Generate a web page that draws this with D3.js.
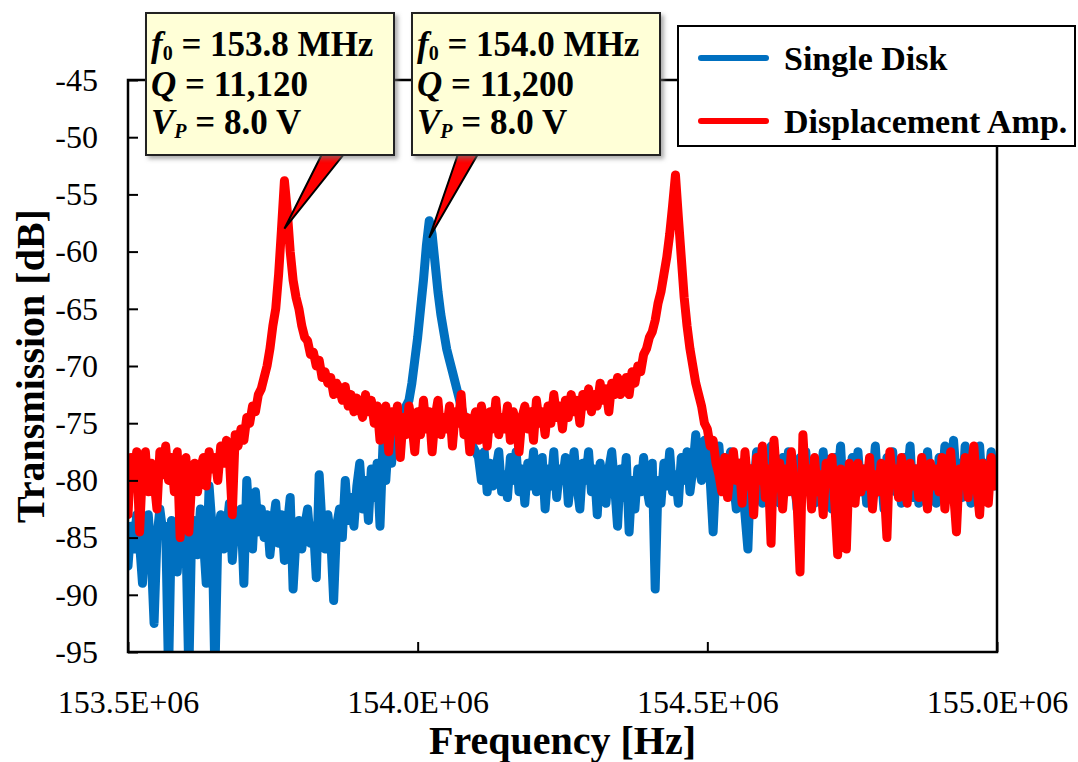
<!DOCTYPE html>
<html><head><meta charset="utf-8">
<script src="https://cdn.jsdelivr.net/npm/d3@7"></script>
<style>html,body{margin:0;padding:0;background:#fff;}svg{display:block;}</style>
</head><body>
<svg id="chart" width="1078" height="762"></svg>
<script>
// ---- DATA ----
const freqStartHz = 153.5e6;
const freqStepHz = 0.005e6;
const seriesNames = ["Single Disk", "Displacement Amp."];
const seriesColors = ["#0070C0", "#FF0000"];
const singleDisk = [
-87.5,-84,-86,-83,-85.5,-89,-84,-83,-86.5,-92.5,
-85,-82.5,-84.5,-84,-97,-83.5,-86,-88,-84,-82,
-85,-97,-84,-83.5,-86.5,-82.5,-85,-89,-80.5,-84,
-97,-85,-83,-86,-84.5,-82,-87,-83.5,-85,-82.5,
-89,-80,-84,-86,-81,-84.5,-82.5,-85,-83,-86.5,
-84,-82,-85.5,-83,-87,-84,-81.5,-89.5,-85,-83.5,
-86,-84,-82.5,-85.5,-84,-88.5,-79.5,-84,-86,-83,
-85,-90.5,-84,-82.5,-85,-80,-83.5,-81.5,-84,-80.5,
-78.5,-82.5,-80,-83.5,-79,-81.5,-78.5,-84,-77,-80,
-76,-78.5,-75.5,-77,-76,-75,-73.5,-73,-71.5,-69.5,
-67.5,-65,-62.5,-59.5,-57.3,-58.5,-61,-63.5,-65.5,-67,
-68.5,-69.5,-70.5,-71.5,-72.5,-73.5,-74.5,-75,-76,-77,
-77.5,-78,-80,-77.5,-81,-78.5,-80.5,-79,-77.5,-81,
-79.5,-81.5,-78,-80,-77.5,-81,-79,-82,-78.5,-80.5,
-77.5,-81,-79.5,-78,-82.5,-79,-80.5,-77.5,-81.5,-79,
-80,-78,-82,-79.5,-77.5,-80.5,-82.5,-78.5,-80,-77.5,
-81,-79,-83,-78.5,-80.5,-82,-79,-77.5,-80.5,-84,
-79,-81.5,-78,-84.5,-80,-82.5,-79,-81,-78,-80.5,
-82,-78.5,-89.5,-80,-82,-78.5,-80.5,-77.5,-81,-79.5,
-82,-78,-80,-77.5,-81,-79,-76,-78.5,-80,-76.5,
-77.5,-80,-84.5,-79,-77,-80.5,-78,-81,-77.5,-80,
-82.5,-78.5,-80,-83,-86,-79,-81,-77.5,-80,-82,
-78.5,-80.5,-77,-81.5,-79,-82,-78,-80.5,-77.5,-81,
-79.5,-82.5,-78,-80,-77.5,-81,-79,-82,-78.5,-80.5,
-77.5,-81,-79,-82.5,-78,-80,-77,-81.5,-79.5,-82,
-78,-80.5,-77.5,-81,-79,-82,-78.5,-80,-77,-81,
-79.5,-82.5,-78,-80.5,-77.5,-81,-79,-82,-78,-80,
-77,-81.5,-79,-82,-78.5,-80,-77.5,-81,-79.5,-82,
-78,-80.5,-77,-81,-79,-76.5,-80,-78.5,-81.5,-77,
-79.5,-82,-78,-80.5,-77,-81,-78.5,-80,-77.5,-80.5,
-79
];
const displacementAmp = [
-83,-78,-80.5,-77.5,-84.5,-79,-77.5,-81,-78.5,-80,
-82.5,-77.5,-79.5,-77,-80,-78,-81,-77.5,-85,-79,
-78,-84.5,-80,-78.5,-81,-79,-78,-80.5,-77.5,-79,
-78,-80,-77,-78.5,-76.5,-78,-83,-76,-77,-75.5,
-76.5,-74.5,-75,-73.5,-74,-72.5,-72,-71,-70,-68.5,
-66.5,-65,-62,-58,-53.8,-56.5,-60,-62.5,-64,-65,
-66.5,-67.5,-67.8,-69,-68.8,-70,-69.5,-71,-70.5,-71.5,
-71,-72.5,-71.5,-72,-73,-71.8,-73.5,-72.5,-74,-72.8,
-73.5,-74.5,-72.5,-74,-73,-75,-73.5,-76.5,-74,-73.5,
-77.5,-74,-75.5,-73.5,-78,-74.5,-76,-73.5,-75,-77.5,
-74,-76,-73,-75.5,-74,-77.5,-74.5,-73,-76,-74.5,
-75.5,-73.5,-77,-74,-75,-72.5,-76,-74.5,-77.5,-75,
-74,-76.5,-73.5,-75,-77,-74,-75.5,-73,-76,-74.5,
-75.5,-73.5,-76.5,-74,-75,-77.5,-74.5,-73.5,-75.5,-74,
-76.5,-73,-75,-74,-76,-73.5,-75,-72.5,-74.5,-73.5,
-75.5,-73,-74.5,-72.5,-74,-73,-75,-72.5,-73.5,-72,
-74,-72.5,-73.5,-71.5,-73,-72,-74,-71.5,-72.5,-71,
-72.5,-72,-71,-72.5,-70.5,-71.5,-70,-70.5,-69,-68.5,
-67.5,-67,-66,-64.5,-63.5,-62,-60.5,-58.5,-56,-53.3,
-57,-60.5,-64,-66.5,-68.5,-70,-71.5,-72.5,-73.5,-75,
-75.5,-77,-76.5,-78.5,-79.5,-81,-78,-81.5,-79,-77.5,
-80,-78.5,-82,-77.5,-80.5,-79,-83,-78,-80,-77,
-81.5,-79,-85.5,-76.5,-80,-78.5,-82.5,-79,-81,-77.5,
-80.5,-82,-88,-76,-80.5,-79,-82.5,-78,-81,-79.5,
-83,-78.5,-80,-78,-82,-86.5,-79,-81.5,-86,-78.5,
-80,-82,-78.5,-81,-79,-80.5,-78,-82.5,-79.5,-81,
-78.5,-80.5,-85,-77.5,-80,-79,-81.5,-78,-80,-82,
-78.5,-80.5,-79,-81.5,-78,-80,-82.5,-78.5,-80.5,-79,
-81,-78,-82.5,-79.5,-77.5,-81,-84.5,-79,-80.5,-78,
-81.5,-79,-77,-80.5,-83,-78.5,-80,-82,-78,-80.5,
-79
];
const xTickValues = [153.5e6, 154.0e6, 154.5e6, 155.0e6];
const xTickLabels = ["153.5E+06", "154.0E+06", "154.5E+06", "155.0E+06"];
const yTickValues = [-45,-50,-55,-60,-65,-70,-75,-80,-85,-90,-95];
const annotationF0 = ["153.8 MHz", "154.0 MHz"];
const annotationQ = ["11,120", "11,200"];
const annotationVp = ["8.0 V", "8.0 V"];
const annotationTipHz = [153.77e6, 154.02e6];
const annotationTipDb = [-58.0, -58.8];
const xTitle = "Frequency [Hz]";
const yTitle = "Transmission [dB]";

// ---- LAYOUT ----
const L = 128, R = 997, T = 80, B = 652;
const FONT = "'Liberation Serif','Times New Roman',Times,serif";
const svg = d3.select("#chart");
const x = d3.scaleLinear().domain([153.5e6, 155.0e6]).range([L, R]);
const y = d3.scaleLinear().domain([-95, -45]).range([B, T]);

const defs = svg.append("defs");
defs.append("clipPath").attr("id", "clip").append("rect")
  .attr("x", L).attr("y", T).attr("width", R - L).attr("height", B - T);
const f = defs.append("filter").attr("id", "shadow").attr("x", "-10%").attr("y", "-10%").attr("width", "130%").attr("height", "130%");
f.append("feDropShadow").attr("dx", 3).attr("dy", 3).attr("stdDeviation", 2)
  .attr("flood-color", "#777").attr("flood-opacity", 0.6);

// lines
const freqs = singleDisk.map((_, i) => freqStartHz + i * freqStepHz);
const line = d3.line().x((d, i) => x(freqs[i])).y(d => y(d));
const g = svg.append("g").attr("clip-path", "url(#clip)");
[singleDisk, displacementAmp].forEach((s, k) => {
  g.append("path").datum(s).attr("d", line)
    .attr("fill", "none").attr("stroke", seriesColors[k])
    .attr("stroke-width", 9).attr("stroke-linejoin", "round").attr("stroke-linecap", "round");
});

// axes
const yAxis = d3.axisLeft(y).tickValues(yTickValues).tickSize(-10).tickPadding(30).tickFormat(d => d);
const xAxis = d3.axisBottom(x).tickValues(xTickValues).tickSize(-10).tickPadding(38)
  .tickFormat((d, i) => xTickLabels[i]);
const ya = svg.append("g").attr("transform", `translate(${L},0)`).call(yAxis);
const xa = svg.append("g").attr("transform", `translate(0,${B})`).call(xAxis);
[ya, xa].forEach(a => {
  a.select(".domain").remove();
  a.selectAll(".tick line").attr("stroke", "#000").attr("stroke-width", 2);
  a.selectAll(".tick text").attr("font-family", FONT).attr("font-size", 32).attr("fill", "#000");
});
svg.append("rect").attr("x", L).attr("y", T).attr("width", R - L).attr("height", B - T)
  .attr("fill", "none").attr("stroke", "#000").attr("stroke-width", 2.5);

// titles
svg.append("text").attr("x", (L + R) / 2).attr("y", 754).attr("text-anchor", "middle")
  .attr("font-family", FONT).attr("font-weight", "bold").attr("font-size", 40).text(xTitle);
svg.append("text").attr("transform", `translate(44,${(T + B) / 2}) rotate(-90)`).attr("text-anchor", "middle")
  .attr("font-family", FONT).attr("font-weight", "bold").attr("font-size", 40).text(yTitle);

// annotations
const boxX = [146, 412], boxW = 248, boxY = 13, boxH = 142;
const baseOff = [[176, 198], [46, 66]];
for (let k = 0; k < 2; k++) {
  const bx = boxX[k];
  const tx = x(annotationTipHz[k]), ty = y(annotationTipDb[k]);
  svg.append("path")
    .attr("d", `M${bx + baseOff[k][0]},${boxY + boxH - 1} L${tx},${ty} L${bx + baseOff[k][1]},${boxY + boxH - 1} Z`)
    .attr("fill", "#FF0000").attr("stroke", "#000").attr("stroke-width", 2).attr("stroke-linejoin", "miter");
  svg.append("rect").attr("x", bx).attr("y", boxY).attr("width", boxW).attr("height", boxH)
    .attr("fill", "#FFFFD7").attr("stroke", "#222").attr("stroke-width", 2).attr("filter", "url(#shadow)");
  const t = svg.append("text").attr("font-family", FONT).attr("font-weight", "bold").attr("font-size", 35).attr("fill", "#000");
  const l1 = t.append("tspan").attr("x", bx + 5).attr("y", boxY + 43);
  l1.append("tspan").attr("font-style", "italic").text("f");
  l1.append("tspan").attr("font-size", 20).attr("dy", 4).text("0");
  l1.append("tspan").attr("dy", -4).text(" = " + annotationF0[k]);
  const l2 = t.append("tspan").attr("x", bx + 5).attr("y", boxY + 83);
  l2.append("tspan").attr("font-style", "italic").text("Q");
  l2.append("tspan").text(" = " + annotationQ[k]);
  const l3 = t.append("tspan").attr("x", bx + 5).attr("y", boxY + 121);
  l3.append("tspan").attr("font-style", "italic").text("V");
  l3.append("tspan").attr("font-style", "italic").attr("font-size", 20).attr("dy", 4).text("P");
  l3.append("tspan").attr("dy", -4).text(" = " + annotationVp[k]);
}

// legend
const lg = svg.append("g");
lg.append("rect").attr("x", 678).attr("y", 26).attr("width", 397).attr("height", 120)
  .attr("fill", "#fff").attr("stroke", "#000").attr("stroke-width", 2);
const legY = [58, 121];
seriesNames.forEach((n, k) => {
  lg.append("line").attr("x1", 701).attr("x2", 766).attr("y1", legY[k]).attr("y2", legY[k])
    .attr("stroke", seriesColors[k]).attr("stroke-width", 6).attr("stroke-linecap", "round");
  lg.append("text").attr("x", 784).attr("y", legY[k] + 12).attr("font-family", FONT)
    .attr("font-weight", "bold").attr("font-size", 34).text(n);
});
</script>
</body></html>
